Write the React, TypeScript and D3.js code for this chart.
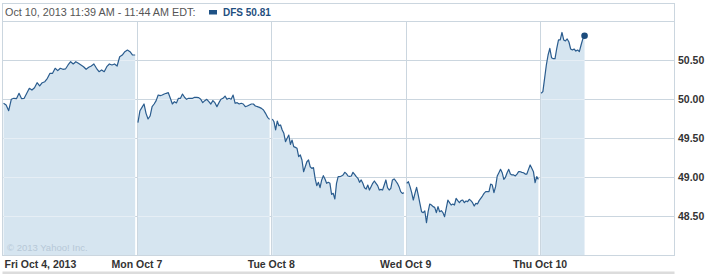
import React from "react";
import * as d3 from "d3";

const headerText = "Oct 10, 2013 11:39 AM - 11:44 AM EDT:";
const symbol = "DFS";
const lastPrice = 50.81;
const watermark = "\u00a9 2013 Yahoo! Inc.";

const dayLabels = ["Fri Oct 4, 2013", "Mon Oct 7", "Tue Oct 8", "Wed Oct 9", "Thu Oct 10"];
const yTickValues = [48.5, 49.0, 49.5, 50.0, 50.5];

const fri = [
  49.945, 49.923, 49.85, 49.996, 50.009, 50.004, 50.073, 50.004, 50.009, 50.073,
  50.137, 50.115, 50.145, 50.209, 50.167, 50.209, 50.222, 50.265, 50.329, 50.329,
  50.394, 50.363, 50.394, 50.381, 50.385, 50.436, 50.478, 50.449, 50.478, 50.458,
  50.436, 50.414, 50.381, 50.406, 50.423, 50.449, 50.394, 50.35, 50.372, 50.35,
  50.414, 50.449, 50.436, 50.449, 50.423, 50.542, 50.564, 50.606, 50.628, 50.606,
  50.564, 50.564,
];
const mon = [
  49.696, 49.85, 49.893, 49.936, 49.816, 49.744, 49.782, 49.902, 49.936, 49.979,
  50.051, 50.043, 50.051, 50.064, 50.073, 50.081, 50.009, 49.936, 49.966, 49.949,
  50.009, 50.009, 50.064, 50.022, 49.996, 50.009, 50.009, 50.009, 50.022, 50.022,
  50.018, 49.996, 49.953, 49.979, 49.996, 49.966, 49.936, 49.979, 49.953, 49.902,
  49.953, 49.996, 50.009, 50.038, 49.996, 50.009, 49.996, 50.051, 49.945, 49.953,
  49.936, 49.945, 49.936, 49.902, 49.91, 49.923, 49.936, 49.936, 49.91, 49.902,
  49.893, 49.88, 49.859, 49.816, 49.765, 49.739,
];
const tue = [
  49.744, 49.709, 49.603, 49.718, 49.658, 49.667, 49.603, 49.56, 49.453, 49.496,
  49.538, 49.419, 49.474, 49.389, 49.38, 49.368, 49.261, 49.282, 49.218, 49.068,
  49.132, 49.196, 49.218, 49.132, 49.111, 49.12, 48.983, 48.889, 48.932, 48.863,
  48.962, 49.017, 48.975, 48.919, 48.932, 48.919, 48.778, 48.79, 48.718, 48.919,
  49.004, 49.004, 49.013, 49.026, 49.06, 49.043, 49.013, 49.009, 49.013, 49.06,
  49.034, 49.004, 48.983, 48.932, 48.962, 48.919, 48.863, 48.846, 48.897, 48.833,
  48.876, 48.919, 48.949, 48.919, 48.889, 48.833, 48.842, 48.833, 48.897, 48.962,
  48.863, 48.833, 48.855, 48.962, 48.975, 48.949, 48.919, 48.876, 48.812, 48.79,
  48.799,
];
const wed = [
  48.919, 48.94, 48.876, 48.799, 48.705, 48.79, 48.868, 48.769, 48.662, 48.555,
  48.543, 48.564, 48.414, 48.555, 48.654, 48.641, 48.62, 48.611, 48.543, 48.62,
  48.555, 48.568, 48.543, 48.491, 48.598, 48.705, 48.671, 48.641, 48.654, 48.641,
  48.726, 48.697, 48.671, 48.697, 48.705, 48.671, 48.692, 48.684, 48.714, 48.697,
  48.671, 48.628, 48.662, 48.654, 48.697, 48.726, 48.756, 48.79, 48.812, 48.812,
  48.812, 48.91, 48.897, 48.799, 48.876, 49.013, 49.055, 49.098, 49.055, 48.97,
  48.996, 49.055, 49.098, 49.038, 49.026, 49.026, 49.013, 49.038, 49.068, 49.068,
  49.06, 49.055, 49.038, 49.038, 49.098, 49.154, 49.111, 49.068, 48.927, 49.004,
  48.97,
];
const thu = [
  50.073, 50.094, 50.265, 50.436, 50.564, 50.65, 50.53, 50.517, 50.517, 50.65,
  50.757, 50.757, 50.853, 50.757, 50.744, 50.77, 50.731, 50.641, 50.628, 50.641,
  50.615, 50.628, 50.607, 50.692, 50.77, 50.81,
];

const dayValues = [fri, mon, tue, wed, thu];
const sessionMinutes = 390;
const sessionStartMinute = 3;
const sessionEndMinutes = [385, 385, 385, 385, 129];

const FONT = "'Liberation Sans', Arial, sans-serif";

export default function App() {
  const W = 708;
  const H = 274;
  const left = 2.5;
  const right = 674.5;
  const top = 21;
  const bottom = 255;

  const x = d3.scaleLinear().domain([0, 5 * sessionMinutes]).range([left, right]);
  const y = d3.scaleLinear().domain([48, 51]).range([bottom, top]);

  type Pt = { t: number; v: number };
  const days: Pt[][] = dayValues.map((vals, d) => {
    const idx = d3
      .scaleLinear()
      .domain([0, vals.length - 1])
      .range([sessionStartMinute, sessionEndMinutes[d]]);
    return vals.map((v, i) => ({ t: d * sessionMinutes + idx(i), v }));
  });

  const line = d3
    .line<Pt>()
    .x((p) => x(p.t))
    .y((p) => y(p.v));
  const area = d3
    .area<Pt>()
    .x((p) => x(p.t))
    .y0(bottom)
    .y1((p) => y(p.v));

  const crisp = (v: number) => Math.round(v) + 0.5;
  const hGrid = yTickValues.map((v) => crisp(y(v)));
  const vGrid = [1, 2, 3, 4].map((d) => crisp(x(d * sessionMinutes)));

  const lastDay = days[days.length - 1];
  const lastPt = lastDay[lastDay.length - 1];

  const gridColor = "#cbd6df";
  const gridInFill = "#e6eef5";

  return (
    <svg
      width={W}
      height={H}
      style={{ position: "absolute", left: 0, top: 0, background: "#fff" }}
      fontFamily={FONT}
    >
      <defs>
        <clipPath id="fillClip">
          {days.map((pts, i) => (
            <path key={i} d={area(pts) || ""} />
          ))}
        </clipPath>
      </defs>

      {/* gridlines under fill */}
      {hGrid.map((gy, i) => (
        <line key={"h" + i} x1={left} x2={right} y1={gy} y2={gy} stroke={gridColor} strokeWidth={1} />
      ))}
      {vGrid.map((gx, i) => (
        <line key={"v" + i} x1={gx} x2={gx} y1={top} y2={bottom} stroke={gridColor} strokeWidth={1} />
      ))}

      {/* fills */}
      {days.map((pts, i) => (
        <path key={"a" + i} d={area(pts) || ""} fill="#d6e5f0" />
      ))}

      {/* lighter gridlines inside fill */}
      <g clipPath="url(#fillClip)">
        {hGrid.map((gy, i) => (
          <line key={"hh" + i} x1={left} x2={right} y1={gy} y2={gy} stroke={gridInFill} strokeWidth={1} />
        ))}
      </g>

      {/* watermark */}
      <text x={7} y={250.5} fontSize={9.5} fill="#b7c8d7">
        {watermark}
      </text>

      {/* lines */}
      {days.map((pts, i) => (
        <path
          key={"l" + i}
          d={line(pts) || ""}
          fill="none"
          stroke="#2a5c8e"
          strokeWidth={1.2}
          strokeLinejoin="round"
        />
      ))}
      <circle cx={x(lastPt.t)} cy={y(lastPt.v)} r={3.3} fill="#1c4c7c" />

      {/* frame and header */}
      <rect x={left} y={3.5} width={right - left} height={bottom + 0.5 - 3.5} fill="none" stroke={gridColor} strokeWidth={1} />
      <line x1={left} x2={right} y1={top + 0.5} y2={top + 0.5} stroke={gridColor} strokeWidth={1} />
      <text x={5} y={16} fontSize={10.8} fill="#555">
        {headerText}
      </text>
      <rect x={209} y={10} width={8} height={4.5} fill="#1f5286" />
      <text x={223} y={16} fontSize={10} fontWeight="bold" fill="#1f4f80">
        {symbol} {lastPrice.toFixed(2)}
      </text>

      {/* right axis */}
      {yTickValues.map((v, i) => (
        <text
          key={"yt" + i}
          x={678}
          y={y(v) + 4}
          fontSize={10.5}
          fontWeight="bold"
          fill="#333"
        >
          {v.toFixed(2)}
        </text>
      ))}

      {/* x labels */}
      {dayLabels.map((lab, i) => (
        <text
          key={"xl" + i}
          x={i === 0 ? 4.5 : x(i * sessionMinutes)}
          y={268}
          fontSize={10.5}
          fontWeight="bold"
          fill="#333"
          textAnchor={i === 0 ? "start" : "middle"}
        >
          {lab}
        </text>
      ))}

      {/* bottom strip */}
      <rect x={2.5} y={271.5} width={right - 2.5} height={3} fill="#dcdcdc" />
    </svg>
  );
}
